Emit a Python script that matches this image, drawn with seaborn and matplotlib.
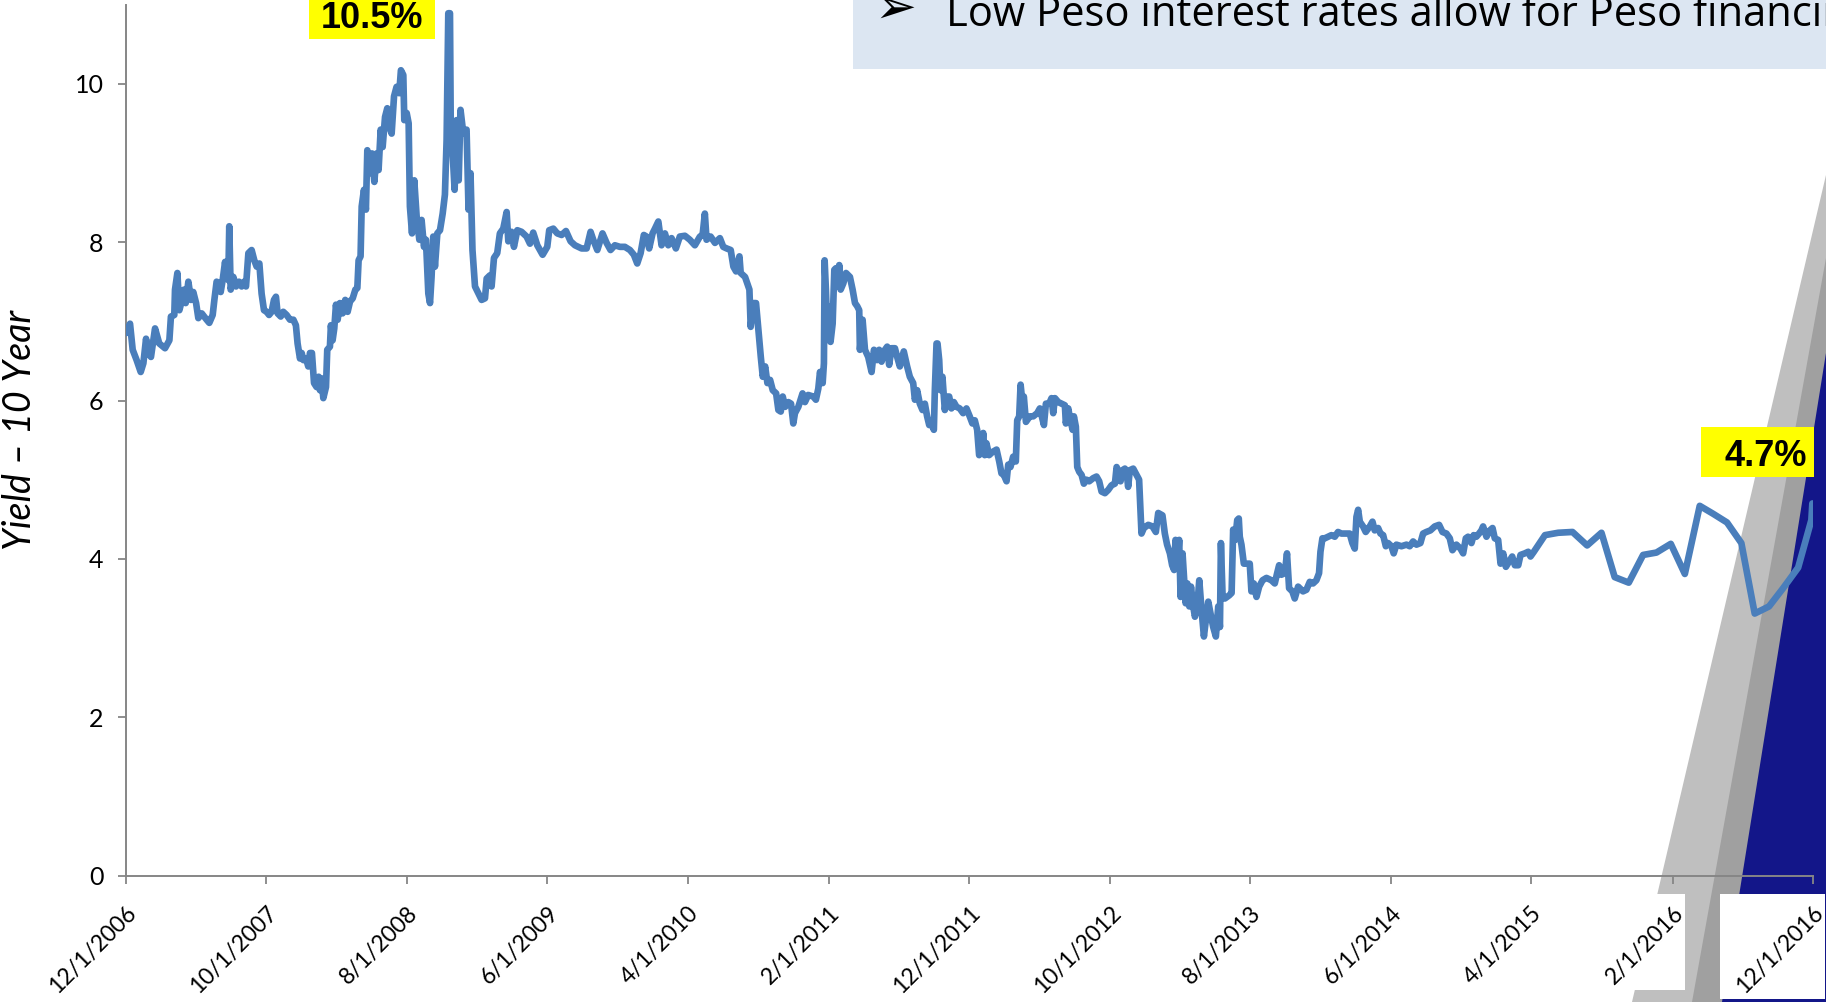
import numpy as np
import pandas as pd
import matplotlib
matplotlib.use("Agg")
import matplotlib.pyplot as plt
import matplotlib.dates as mdates
import seaborn as sns
from matplotlib.patches import Polygon, Rectangle

# ---------------- data ----------------
months_since_dec2006 = [
    0.00, 0.30, 0.49, 0.77, 1.06, 1.25, 1.44, 1.60, 1.79, 2.08, 2.38, 2.79, 3.10, 3.21, 3.45, 3.50,
    3.67, 3.81, 3.97, 4.14, 4.26, 4.45, 4.64, 4.80, 5.00, 5.16, 5.40, 5.75, 5.94, 6.18, 6.30, 6.46,
    6.65, 6.75, 6.89, 7.06, 7.17, 7.29, 7.36, 7.46, 7.65, 7.84, 8.05, 8.24, 8.41, 8.55, 8.72, 8.95,
    9.14, 9.31, 9.50, 9.66, 9.83, 10.02, 10.19, 10.37, 10.54, 10.68, 10.80, 11.02, 11.20, 11.44,
    11.68, 11.92, 12.10, 12.22, 12.39, 12.51, 12.63, 12.82, 12.98, 13.10, 13.24, 13.39, 13.57,
    13.72, 13.81, 13.93, 14.05, 14.24, 14.33, 14.52, 14.59, 14.71, 14.83, 14.95, 15.07, 15.23,
    15.42, 15.61, 15.78, 15.95, 16.14, 16.33, 16.47, 16.56, 16.70, 16.78, 16.94, 17.08, 17.18,
    17.37, 17.51, 17.68, 17.84, 17.98, 18.13, 18.27, 18.44, 18.60, 18.74, 18.91, 19.08, 19.26,
    19.45, 19.57, 19.74, 19.81, 19.98, 20.12, 20.21, 20.36, 20.52, 20.69, 20.88, 21.04, 21.21,
    21.35, 21.52, 21.64, 21.75, 21.87, 21.99, 22.16, 22.35, 22.54, 22.70, 22.82, 22.94, 23.06,
    23.11, 23.39, 23.53, 23.68, 23.81, 24.01, 24.24, 24.38, 24.52, 24.66,
    24.84, 25.31, 25.55, 25.67, 25.90, 26.02, 26.19, 26.42, 26.61, 26.85, 27.09, 27.21, 27.44,
    27.61, 27.85, 28.15, 28.51, 28.75, 28.98, 29.27, 29.65, 29.98, 30.12, 30.41, 30.69, 31.00,
    31.31, 31.64, 31.95, 32.42, 32.78, 33.06, 33.25, 33.54, 33.91, 34.20, 34.48, 34.79, 35.15,
    35.50, 35.86, 36.14, 36.38, 36.62, 36.85, 37.04, 37.23, 37.47, 37.64, 37.88, 38.11, 38.35,
    38.59, 38.82, 39.13, 39.41, 39.77, 40.12, 40.48, 40.84, 41.03, 41.19, 41.31, 41.60, 41.91,
    42.26, 42.50, 42.74, 43.03, 43.22, 43.41, 43.65, 43.74, 44.05, 44.36, 44.45, 44.64, 44.83,
    45.00, 45.17, 45.31, 45.48, 45.64, 45.83, 46.02, 46.26, 46.42, 46.59, 46.73, 46.90, 47.13,
    47.32, 47.48, 47.60, 47.84,
    48.14, 48.31, 48.54, 48.90, 49.09, 49.26, 49.38, 49.57, 49.66, 49.71, 49.80, 49.90, 50.04,
    50.13, 50.28, 50.40, 50.51, 50.61, 50.75, 50.85, 51.04, 51.23, 51.51, 51.70, 51.87, 52.03,
    52.17, 52.22, 52.41, 52.58, 52.81, 53.05, 53.22, 53.45, 53.59, 53.76, 54.00, 54.16, 54.30,
    54.47, 54.71, 54.87, 55.06, 55.34, 55.58, 55.77, 56.01, 56.13, 56.29, 56.48, 56.67, 56.84,
    57.00, 57.15, 57.31, 57.48, 57.55, 57.67, 57.74, 57.86, 57.95, 58.09, 58.26, 58.38, 58.57,
    58.73, 58.90, 59.09, 59.32, 59.56, 59.80, 60.03, 60.22, 60.39, 60.56, 60.70, 60.87, 60.99,
    61.10, 61.22, 61.41, 61.65, 61.94, 62.13, 62.29, 62.46, 62.65, 62.77, 62.93, 63.12, 63.31,
    63.41, 63.55, 63.65, 63.79, 63.88, 64.03, 64.31, 64.55, 64.83, 65.02, 65.31, 65.45, 65.68,
    65.85, 65.97, 66.09, 66.33, 66.56, 66.80, 66.87, 67.04, 67.16, 67.35, 67.44, 67.58, 67.68,
    67.82, 67.99, 68.15, 68.34, 68.53, 68.82, 69.05, 69.24, 69.41, 69.65, 69.88, 70.12, 70.36,
    70.48, 70.66, 70.76, 70.90, 71.07, 71.19, 71.30, 71.42, 71.66, 71.90, 72.08,
    72.25, 72.42, 72.73, 73.03, 73.27, 73.44, 73.74, 73.91, 74.07, 74.27, 74.43, 74.57, 74.67,
    74.79, 74.93, 75.03, 75.17, 75.29, 75.39, 75.51, 75.65, 75.77, 75.93, 76.05, 76.22, 76.36,
    76.52, 76.69, 76.83, 77.00, 77.16, 77.35, 77.54, 77.71, 77.83, 77.90, 78.02, 78.18, 78.49,
    78.66, 78.77, 78.91, 79.06, 79.17, 79.24, 79.36, 79.53, 79.76, 79.95, 80.07, 80.24, 80.43,
    80.62, 80.86, 81.14, 81.49, 81.73, 81.90, 82.04, 82.20, 82.44, 82.60, 82.75, 82.98, 83.15,
    83.39, 83.74, 83.98, 84.22, 84.45, 84.69, 84.88, 84.98, 85.12, 85.29, 85.52, 85.76, 86.00,
    86.23, 86.47, 86.83, 87.06, 87.25, 87.42, 87.54, 87.66, 87.78, 88.01, 88.20, 88.49, 88.68,
    88.84, 89.08, 89.25, 89.44, 89.63, 89.79, 90.03, 90.19, 90.38, 90.74, 91.10, 91.33, 91.57,
    91.81, 92.09, 92.28, 92.51, 92.80, 93.11, 93.42, 93.66, 93.94, 94.18, 94.37, 94.65, 94.94,
    95.13, 95.32, 95.48, 95.72, 95.88, 96.07, 96.26, 96.43, 96.55,
    96.79, 97.03, 97.22, 97.38, 97.62, 97.79, 97.98, 98.17, 98.41, 98.62, 98.81, 99.05, 99.21,
    99.52, 99.76, 99.92, 100.16, 100.95, 101.89, 102.91, 103.95, 104.97, 105.91, 106.91, 107.93,
    108.88, 109.90, 110.90, 111.96, 112.91, 113.90, 114.92, 115.87, 116.89, 117.89, 118.96,
    119.90, 119.97,
]

yield_10y = [
    6.85, 6.97, 6.64, 6.51, 6.36, 6.47, 6.78, 6.60, 6.55, 6.91, 6.72, 6.66, 6.76, 7.06, 7.08, 7.40,
    7.61, 7.14, 7.25, 7.40, 7.23, 7.50, 7.27, 7.37, 7.23, 7.04, 7.10, 7.02, 6.98, 7.08, 7.27, 7.50,
    7.48, 7.37, 7.52, 7.75, 7.56, 7.52, 8.20, 7.40, 7.56, 7.44, 7.50, 7.44, 7.50, 7.44, 7.86, 7.90,
    7.77, 7.69, 7.73, 7.35, 7.14, 7.12, 7.08, 7.12, 7.27, 7.31, 7.10, 7.06, 7.12, 7.08,
    7.02, 7.02, 6.95, 6.72, 6.53, 6.60, 6.51, 6.53, 6.43, 6.60, 6.60, 6.22, 6.17,
    6.30, 6.13, 6.28, 6.03, 6.17, 6.64, 6.68, 6.95, 6.76, 6.91, 7.21, 7.02, 7.23,
    7.10, 7.27, 7.12, 7.25, 7.29, 7.40, 7.42, 7.77, 7.82, 8.45, 8.66, 8.41, 9.16,
    8.87, 9.12, 8.76, 9.12, 8.91, 9.42, 9.20, 9.58, 9.69, 9.46, 9.37, 9.84, 9.96,
    9.88, 10.17, 10.11, 9.54, 9.63, 9.50, 8.45, 8.11, 8.78, 8.32, 8.03, 8.28, 7.94,
    8.03, 7.35, 7.23, 7.56, 8.07, 7.69, 8.11, 8.15, 8.36, 8.60, 9.29, 10.89, 10.89,
    9.58, 8.66, 9.54, 8.78, 9.67, 9.37, 9.42, 8.41, 8.87, 7.90,
    7.44, 7.27, 7.29, 7.54, 7.58, 7.44, 7.80, 7.86, 8.11, 8.17, 8.38, 8.01, 8.13,
    7.94, 8.15, 8.13, 8.07, 7.98, 8.12, 7.96, 7.84, 7.94, 8.15, 8.17, 8.11, 8.09,
    8.14, 8.01, 7.96, 7.92, 7.92, 8.13, 8.03, 7.90, 8.11, 7.99, 7.90, 7.96, 7.94,
    7.94, 7.90, 7.84, 7.73, 7.86, 8.09, 8.07, 7.92, 8.11, 8.17, 8.26, 7.96, 8.11,
    7.96, 8.05, 7.92, 8.07, 8.08, 8.03, 7.96, 8.07, 8.09, 8.36, 8.03, 8.07, 7.99,
    8.05, 7.94, 7.92, 7.90, 7.69, 7.63, 7.82, 7.61, 7.56, 7.40, 6.93, 7.23, 7.23,
    6.89, 6.55, 6.30, 6.43, 6.22, 6.26, 6.13, 6.09, 5.88, 5.86, 6.05, 5.92, 5.98,
    5.96, 5.71, 5.84, 5.92,
    6.09, 5.98, 6.07, 6.05, 6.01, 6.15, 6.36, 6.22, 6.47, 7.77, 7.40, 6.89, 7.18,
    6.74, 6.97, 7.65, 7.67, 7.44, 7.71, 7.40, 7.48, 7.61, 7.56, 7.40, 7.23, 7.19,
    7.14, 6.64, 7.02, 6.64, 6.55, 6.36, 6.64, 6.51, 6.64, 6.49, 6.64, 6.68, 6.45,
    6.66, 6.66, 6.55, 6.43, 6.62, 6.43, 6.30, 6.22, 6.01, 6.13, 5.96, 5.88, 5.96,
    5.80, 5.69, 5.71, 5.63, 6.13, 6.72, 6.72, 6.51, 6.13, 6.30, 5.88, 6.05, 6.05,
    5.90, 5.98, 5.92, 5.90, 5.84, 5.90, 5.80, 5.71, 5.75, 5.63, 5.31, 5.38, 5.59,
    5.31, 5.46, 5.31, 5.35, 5.38, 5.23, 5.08, 5.06, 4.98, 5.19, 5.16, 5.29, 5.23,
    5.75, 5.80, 6.20, 5.96, 6.05, 5.73, 5.80, 5.80, 5.84, 5.90, 5.69, 5.96, 5.96,
    6.03, 5.84, 6.03, 5.98, 5.96, 5.94, 5.71, 5.90, 5.78, 5.63, 5.80, 5.67, 5.16,
    5.10, 5.06, 4.95, 5.00, 4.98, 5.02, 5.04, 4.98, 4.85, 4.83, 4.87, 4.93, 4.95,
    5.16, 5.08, 4.98, 5.12, 5.14, 5.10, 4.91, 5.12, 5.14, 5.06, 5.00,
    4.32, 4.39, 4.43, 4.41, 4.34, 4.58, 4.55, 4.32, 4.18, 4.07, 3.92, 3.86, 4.24,
    3.88, 4.24, 3.52, 4.07, 3.73, 3.44, 3.69, 3.40, 3.65, 3.40, 3.27, 3.40, 3.73,
    3.36, 3.02, 3.23, 3.46, 3.31, 3.14, 3.02, 3.40, 3.14, 4.20, 3.52, 3.50, 3.54,
    3.57, 4.37, 4.24, 4.49, 4.51, 4.28, 4.18, 3.94, 3.94, 3.94, 3.59, 3.69, 3.52,
    3.65, 3.73, 3.76, 3.73, 3.69, 3.82, 3.92, 3.80, 3.82, 4.07, 3.63, 3.59, 3.50,
    3.65, 3.59, 3.61, 3.71, 3.69, 3.73, 3.82, 4.09, 4.26, 4.26, 4.28, 4.30, 4.28,
    4.34, 4.32, 4.32, 4.32, 4.20, 4.13, 4.53, 4.62, 4.47, 4.41, 4.34, 4.41, 4.47,
    4.36, 4.39, 4.32, 4.30, 4.16, 4.20, 4.16, 4.07, 4.18, 4.16, 4.18, 4.16, 4.22,
    4.18, 4.20, 4.32, 4.34, 4.36, 4.41, 4.43, 4.34, 4.32, 4.26, 4.11, 4.18, 4.13,
    4.07, 4.26, 4.28, 4.20, 4.30, 4.28, 4.32, 4.36, 4.41,
    4.28, 4.36, 4.39, 4.26, 4.24, 3.94, 4.07, 3.90, 3.97, 4.03, 3.92, 3.92, 4.05,
    4.07, 4.09, 4.03, 4.09, 4.30, 4.33, 4.34, 4.17, 4.33, 3.77, 3.70, 4.05,
    4.08, 4.19, 3.81, 4.67, 4.57, 4.46, 4.20, 3.31, 3.40, 3.63, 3.89,
    4.49, 4.70,
]

tick_labels = ["12/1/2006", "10/1/2007", "8/1/2008", "6/1/2009", "4/1/2010", "2/1/2011",
               "12/1/2011", "10/1/2012", "8/1/2013", "6/1/2014", "4/1/2015", "2/1/2016",
               "12/1/2016"]
y_ticks = [0, 2, 4, 6, 8, 10]
y_label = "Yield \u2013 10 Year"
headline = "Low Peso interest rates allow for Peso financing"
callout_peak = "10.5%"
callout_last = "4.7%"

# ---------------- styling ----------------
sns.set_theme(style="white")
plt.rcParams["font.family"] = ["Lato", "DejaVu Sans"]

W, H = 1826, 1002
fig = plt.figure(figsize=(W / 100, H / 100), dpi=100)
fig.patch.set_facecolor("white")


def fx(px):
    return px / W


def fy(py):
    return 1 - py / H


# decorative slide shapes (bottom-right), behind the axes
for pts, col in [
    ([(1632, 1002), (1826, 175), (1826, 1002)], "#BFBFBF"),
    ([(1692, 1002), (1826, 258), (1826, 1002)], "#A0A0A0"),
    ([(1722, 1002), (1826, 353), (1826, 1002)], "#131689"),
]:
    poly = Polygon([(fx(a), fy(b)) for a, b in pts], closed=True, transform=fig.transFigure,
                   facecolor=col, edgecolor="none", zorder=-3)
    fig.add_artist(poly)

# white backgrounds behind the last two tick labels
for (x0, y0, x1, y1) in [(1600, 894, 1685, 990), (1720, 894, 1825, 999)]:
    fig.add_artist(Rectangle((fx(x0), fy(y1)), fx(x1) - fx(x0), fy(y0) - fy(y1),
                             transform=fig.transFigure, facecolor="white", edgecolor="none",
                             zorder=-2))

# axes
ax_left, ax_right, ax_bottom, ax_top = 125.8, 1813.0, 875.7, 4.5
ax = fig.add_axes([fx(ax_left), fy(ax_bottom), fx(ax_right) - fx(ax_left),
                   fy(ax_top) - fy(ax_bottom)])
ax.patch.set_alpha(0)

start = pd.Timestamp("2006-12-01")
dates = start + pd.to_timedelta(np.array(months_since_dec2006) * 30.4375, unit="D")
df = pd.DataFrame({"date": dates, "yield": yield_10y})
sns.lineplot(data=df, x="date", y="yield", ax=ax, color="#4A7EBB", linewidth=4.8,
             zorder=3, estimator=None, sort=False)

tick_dates = pd.to_datetime(tick_labels, format="%m/%d/%Y")
tick_nums = mdates.date2num(tick_dates.to_pydatetime())
ax.set_xlim(tick_nums[0], tick_nums[-1])
ax.set_xticks(tick_nums)
ax.set_xticklabels(tick_labels, rotation=45, ha="right", va="top",
                   rotation_mode="anchor", fontsize=16.5, color="black")
ax.set_ylim(0, 11)
ax.set_yticks(y_ticks)
ax.set_yticklabels([str(v) for v in y_ticks], fontsize=18, color="black")
ax.set_xlabel("")
ax.set_ylabel("")

for side in ["top", "right"]:
    ax.spines[side].set_visible(False)
for side in ["left", "bottom"]:
    ax.spines[side].set_color("#868686")
    ax.spines[side].set_linewidth(1.4)
    ax.spines[side].set_zorder(2)
ax.tick_params(axis="x", bottom=True, direction="out", length=6, width=1.3,
               color="#868686", pad=13)
ax.tick_params(axis="y", left=True, direction="out", length=6, width=1.3,
               color="#868686", pad=10)
ax.grid(False)

# y-axis title
fig.text(fx(20), fy(430), y_label, rotation=90, style="italic", fontsize=27,
         ha="center", va="center", color="black")

# headline box at top right (text runs past the slide edge, as in the original)
fig.add_artist(Rectangle((fx(853), fy(69)), 1 - fx(853), fy(0) - fy(69),
                         transform=fig.transFigure, facecolor="#DCE6F2", edgecolor="none",
                         zorder=4))
fig.text(fx(874), fy(23), "\u27A2", fontsize=36, family=["DejaVu Sans"], ha="left",
         va="baseline", color="black", zorder=5)
fig.text(fx(946), fy(26), headline, fontsize=30, family=["Open Sans", "DejaVu Sans"],
         ha="left", va="baseline", color="black", zorder=5)

# yellow callouts
for (x0, y0, x1, y1), txt, cx, base in [
    ((309, 0, 435, 39), callout_peak, 372, 28),
    ((1701, 427, 1814, 477), callout_last, 1766, 466),
]:
    fig.add_artist(Rectangle((fx(x0), fy(y1)), fx(x1) - fx(x0), fy(y0) - fy(y1),
                             transform=fig.transFigure, facecolor="#FFFF00",
                             edgecolor="none", zorder=6))
    fig.text(fx(cx), fy(base), txt, fontsize=26, fontweight="bold",
             family=["Liberation Sans", "DejaVu Sans"], ha="center", va="baseline",
             color="black", zorder=7)

fig.savefig("out.png", dpi=100, facecolor="white")
